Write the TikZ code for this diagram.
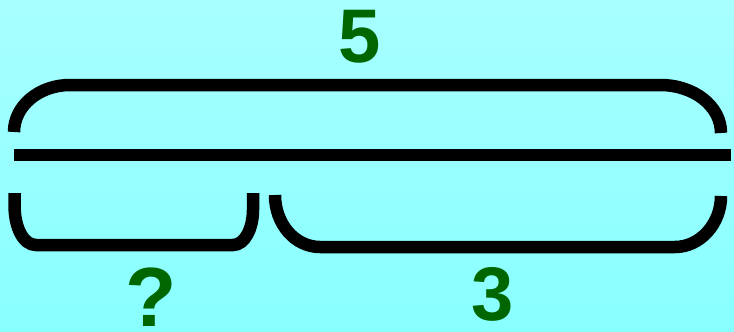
\documentclass[tikz,border=0pt]{standalone}
\usepackage{fontspec}
\setmainfont{Liberation Sans}
\definecolor{bgtop}{HTML}{A8FFFF}
\definecolor{bgbottom}{HTML}{88FFFF}
\definecolor{numgreen}{HTML}{006600}
\begin{document}
\begin{tikzpicture}[x=1pt,y=-1pt,
  brace/.style={draw=black,line width=12.5pt,line cap=butt},
  num/.style={text=numgreen,font=\bfseries\fontsize{76}{76}\selectfont,inner sep=0pt,anchor=base},
  qmark/.style={num,font=\bfseries\fontsize{84}{84}\selectfont}]
  % background
  \shade[top color=bgtop,bottom color=bgbottom] (0,0) rectangle (734,332);
  \useasboundingbox (0,0) rectangle (734,332);

  % whole bar and brace above it
  \draw[brace] (14,155) -- (731,155);
  \draw[brace] (14,132) .. controls (14,106) and (39,85) .. (70,85)
    -- (660,85) .. controls (694,85) and (721,106) .. (721,133);

  % left part brace
  \draw[brace] (14.5,193) -- (14.5,205) .. controls (14.5,227) and (23,245) .. (36,245)
    -- (233,245) .. controls (245,245) and (253,228) .. (253,210) -- (253,193);

  % right part brace
  \draw[brace] (275,195) .. controls (275,224) and (295,247) .. (320,247)
    -- (675,247) .. controls (700,247) and (721,224) .. (721,196);

  % labels
  \node[num] (total) at (360,62) {5};
  \node[qmark] (unknown) at (151.5,326) {?};
  \node[num] (part) at (493,320) {3};
\end{tikzpicture}
\end{document}
